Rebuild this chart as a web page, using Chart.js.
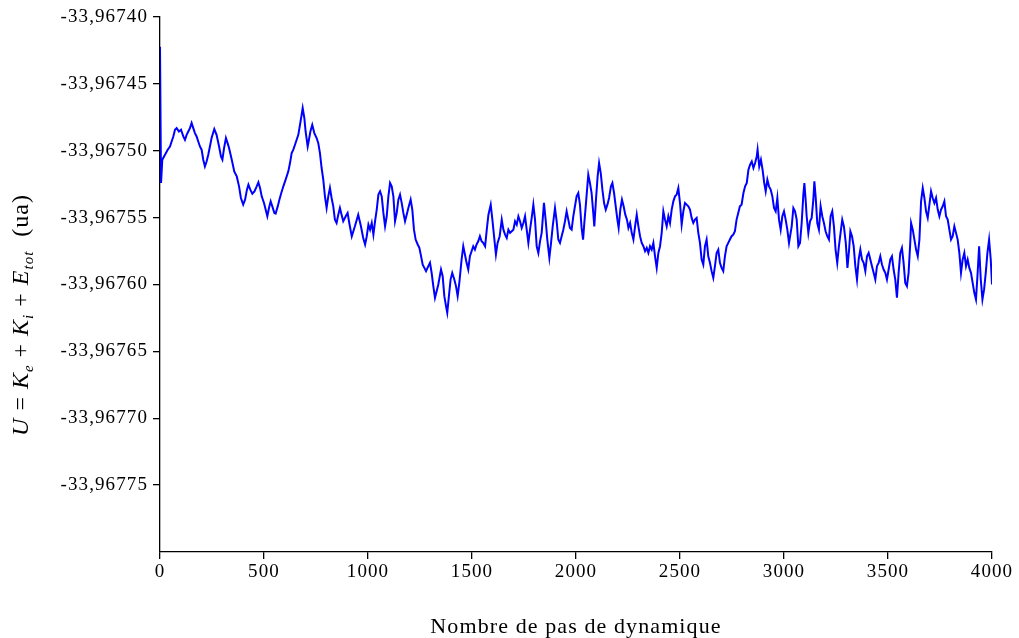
<!DOCTYPE html>
<html>
<head>
<meta charset="utf-8">
<script src="https://cdn.jsdelivr.net/npm/chart.js@4/dist/chart.umd.min.js"></script>
<style>
  html, body { margin: 0; padding: 0; background: #fff; }
  #wrap { width: 1019px; height: 638px; position: relative; }
</style>
</head>
<body>
<div id="wrap"><canvas id="chart"></canvas></div>
<script>
// pas de dynamique (x) and total energy U (ua) in four stretches
const STEPS_1 = [
    0, 5, 11, 24, 37, 48, 56, 64, 72, 80,
    91, 101, 112, 120, 128, 136, 144, 152, 160, 168,
    176, 184, 192, 200, 208, 216, 224, 232, 240, 248,
    261, 272, 284, 293, 300, 308, 317, 325, 332, 345,
    357, 369, 380, 389, 400, 409, 418, 425, 434, 444,
    454, 465, 473, 481, 489, 500, 510, 516, 524, 532,
    540, 550, 556, 566, 574, 582, 593, 604, 617, 625,
    633, 641, 649, 657, 665, 673, 681, 686, 694, 700,
    710, 716, 723, 732, 742, 753, 761, 769, 777, 785,
    793, 801, 809, 817, 825, 833, 841, 849, 857, 865,
    873, 881, 893, 902, 910, 922, 937, 953, 966, 977
];
const ENERGY_1 = [
    -33.9674222, -33.9675241, -33.9675067, -33.9675030, -33.9674992, -33.9674968, -33.9674931, -33.9674893, -33.9674843, -33.9674831,
    -33.9674856, -33.9674843, -33.9674893, -33.9674918, -33.9674881, -33.9674856, -33.9674831, -33.9674793, -33.9674831, -33.9674868,
    -33.9674893, -33.9674931, -33.9674968, -33.9674992, -33.9675067, -33.9675117, -33.9675080, -33.9675030, -33.9674968, -33.9674905,
    -33.9674838, -33.9674881, -33.9674968, -33.9675043, -33.9675067, -33.9674980, -33.9674905, -33.9674943, -33.9674980, -33.9675067,
    -33.9675154, -33.9675192, -33.9675266, -33.9675353, -33.9675403, -33.9675366, -33.9675291, -33.9675254, -33.9675291, -33.9675321,
    -33.9675304, -33.9675266, -33.9675236, -33.9675278, -33.9675341, -33.9675390, -33.9675453, -33.9675490, -33.9675428, -33.9675378,
    -33.9675416, -33.9675465, -33.9675470, -33.9675416, -33.9675366, -33.9675321, -33.9675266, -33.9675216, -33.9675154, -33.9675092,
    -33.9675017, -33.9674992, -33.9674955, -33.9674918, -33.9674881, -33.9674806, -33.9674731, -33.9674681, -33.9674756, -33.9674856,
    -33.9674968, -33.9674918, -33.9674856, -33.9674806, -33.9674868, -33.9674905, -33.9674943, -33.9675017, -33.9675129, -33.9675216,
    -33.9675341, -33.9675428, -33.9675341, -33.9675278, -33.9675353, -33.9675416, -33.9675515, -33.9675540, -33.9675478, -33.9675428,
    -33.9675478, -33.9675527, -33.9675490, -33.9675465, -33.9675540, -33.9675640, -33.9675565, -33.9675478, -33.9675565, -33.9675652
];

const STEPS_2 = [
    986, 994, 1002, 1010, 1018, 1026, 1034, 1042, 1050, 1058,
    1066, 1074, 1082, 1090, 1098, 1106, 1114, 1122, 1130, 1138,
    1146, 1154, 1162, 1170, 1178, 1186, 1194, 1205, 1213, 1221,
    1229, 1239, 1247, 1255, 1263, 1271, 1279, 1290, 1298, 1306,
    1314, 1322, 1330, 1338, 1351, 1359, 1367, 1375, 1381, 1389,
    1397, 1405, 1415, 1423, 1431, 1439, 1450, 1458, 1466, 1474,
    1482, 1490, 1498, 1506, 1514, 1522, 1530, 1538, 1546, 1554,
    1563, 1571, 1579, 1590, 1598, 1606, 1615, 1623, 1633, 1643,
    1651, 1659, 1667, 1675, 1683, 1691, 1699, 1707, 1715, 1723,
    1731, 1739, 1747, 1755, 1763, 1771, 1779, 1787, 1795, 1803,
    1811, 1819, 1827, 1835, 1846, 1854, 1862, 1872, 1880, 1888,
    1899, 1907, 1915, 1923, 1931, 1939, 1947, 1955, 1963, 1971,
    1979, 1987, 1995, 2003, 2011, 2019
];
const ENERGY_2 = [
    -33.9675701, -33.9675639, -33.9675552, -33.9675590, -33.9675540, -33.9675627, -33.9675527, -33.9675440, -33.9675328, -33.9675303,
    -33.9675341, -33.9675465, -33.9675565, -33.9675490, -33.9675341, -33.9675241, -33.9675266, -33.9675341, -33.9675527, -33.9675465,
    -33.9675366, -33.9675328, -33.9675390, -33.9675465, -33.9675527, -33.9675478, -33.9675428, -33.9675366, -33.9675440, -33.9675590,
    -33.9675664, -33.9675701, -33.9675726, -33.9675788, -33.9675851, -33.9675876, -33.9675900, -33.9675863, -33.9675838, -33.9675913,
    -33.9676012, -33.9676099, -33.9676050, -33.9676000, -33.9675888, -33.9675938, -33.9676087, -33.9676162, -33.9676211, -33.9676087,
    -33.9675963, -33.9675913, -33.9675963, -33.9676012, -33.9676087, -33.9675988, -33.9675813, -33.9675714, -33.9675776, -33.9675838,
    -33.9675888, -33.9675788, -33.9675751, -33.9675714, -33.9675739, -33.9675701, -33.9675677, -33.9675639, -33.9675677, -33.9675689,
    -33.9675714, -33.9675590, -33.9675478, -33.9675403, -33.9675515, -33.9675639, -33.9675776, -33.9675689, -33.9675639, -33.9675515,
    -33.9675590, -33.9675627, -33.9675652, -33.9675590, -33.9675614, -33.9675602, -33.9675590, -33.9675527, -33.9675552, -33.9675490,
    -33.9675527, -33.9675577, -33.9675540, -33.9675490, -33.9675590, -33.9675689, -33.9675590, -33.9675502, -33.9675403, -33.9675515,
    -33.9675714, -33.9675764, -33.9675677, -33.9675614, -33.9675390, -33.9675515, -33.9675664, -33.9675801, -33.9675689, -33.9675565,
    -33.9675428, -33.9675527, -33.9675664, -33.9675689, -33.9675639, -33.9675590, -33.9675527, -33.9675453, -33.9675515, -33.9675577,
    -33.9675590, -33.9675490, -33.9675415, -33.9675341, -33.9675316, -33.9675403
];

const STEPS_3 = [
    2027, 2034, 2040, 2048, 2059, 2067, 2075, 2083, 2088, 2096,
    2104, 2111, 2119, 2127, 2135, 2143, 2151, 2159, 2168, 2175,
    2183, 2191, 2199, 2205, 2213, 2221, 2229, 2237, 2245, 2252,
    2260, 2268, 2276, 2284, 2292, 2300, 2308, 2316, 2324, 2332,
    2340, 2348, 2356, 2364, 2372, 2380, 2388, 2396, 2404, 2412,
    2420, 2428, 2436, 2444, 2452, 2460, 2468, 2476, 2484, 2492,
    2500, 2508, 2516, 2524, 2532, 2540, 2548, 2556, 2564, 2572,
    2580, 2588, 2596, 2604, 2612, 2620, 2628, 2636, 2644, 2652,
    2660, 2668, 2676, 2684, 2692, 2700, 2708, 2716, 2724, 2732,
    2740, 2748, 2756, 2764, 2772, 2780, 2788, 2796, 2805, 2813,
    2821, 2829, 2837, 2845, 2853, 2861, 2869, 2873, 2881, 2889,
    2897, 2905, 2912, 2920, 2928, 2936, 2944, 2952, 2960, 2968,
    2976, 2984, 2992, 3000, 3008, 3016, 3024
];
const ENERGY_3 = [
    -33.9675577, -33.9675664, -33.9675540, -33.9675391, -33.9675179, -33.9675241, -33.9675316, -33.9675465, -33.9675565, -33.9675366,
    -33.9675192, -33.9675092, -33.9675167, -33.9675291, -33.9675391, -33.9675440, -33.9675403, -33.9675353, -33.9675266, -33.9675241,
    -33.9675316, -33.9675415, -33.9675515, -33.9675577, -33.9675440, -33.9675366, -33.9675415, -33.9675478, -33.9675515, -33.9675577,
    -33.9675540, -33.9675614, -33.9675664, -33.9675565, -33.9675478, -33.9675565, -33.9675639, -33.9675689, -33.9675714, -33.9675751,
    -33.9675726, -33.9675764, -33.9675714, -33.9675739, -33.9675689, -33.9675789, -33.9675876, -33.9675764, -33.9675714, -33.9675614,
    -33.9675453, -33.9675515, -33.9675565, -33.9675490, -33.9675540, -33.9675440, -33.9675378, -33.9675341, -33.9675328, -33.9675279,
    -33.9675391, -33.9675552, -33.9675453, -33.9675391, -33.9675403, -33.9675415, -33.9675440, -33.9675502, -33.9675540, -33.9675515,
    -33.9675502, -33.9675614, -33.9675689, -33.9675813, -33.9675851, -33.9675714, -33.9675664, -33.9675789, -33.9675838, -33.9675900,
    -33.9675950, -33.9675863, -33.9675764, -33.9675739, -33.9675838, -33.9675876, -33.9675900, -33.9675789, -33.9675714, -33.9675689,
    -33.9675664, -33.9675639, -33.9675627, -33.9675602, -33.9675515, -33.9675465, -33.9675415, -33.9675403, -33.9675316, -33.9675266,
    -33.9675241, -33.9675142, -33.9675104, -33.9675080, -33.9675129, -33.9675092, -33.9675042, -33.9674992, -33.9675117, -33.9675067,
    -33.9675142, -33.9675241, -33.9675303, -33.9675216, -33.9675266, -33.9675291, -33.9675341, -33.9675428, -33.9675453, -33.9675353,
    -33.9675515, -33.9675590, -33.9675490, -33.9675453, -33.9675515, -33.9675590, -33.9675689
];

const STEPS_4 = [
    3037, 3045, 3053, 3061, 3069, 3077, 3085, 3093, 3098, 3104,
    3109, 3117, 3125, 3133, 3141, 3146, 3152, 3160, 3168, 3176,
    3184, 3192, 3200, 3208, 3216, 3224, 3232, 3240, 3248, 3256,
    3264, 3272, 3280, 3288, 3297, 3305, 3313, 3319, 3327, 3335,
    3343, 3351, 3359, 3367, 3375, 3383, 3391, 3399, 3407, 3415,
    3423, 3431, 3439, 3447, 3455, 3463, 3471, 3479, 3487, 3495,
    3503, 3511, 3519, 3527, 3535, 3543, 3551, 3559, 3567, 3575,
    3583, 3591, 3599, 3607, 3611, 3619, 3627, 3635, 3643, 3651,
    3659, 3667, 3675, 3683, 3691, 3699, 3707, 3715, 3723, 3731,
    3739, 3747, 3755, 3763, 3771, 3779, 3787, 3795, 3803, 3811,
    3819, 3827, 3835, 3843, 3851, 3859, 3867, 3875, 3883, 3891,
    3899, 3907, 3915, 3923, 3931, 3938, 3946, 3954, 3962, 3970,
    3978, 3986, 3994, 4000
];
const ENERGY_4 = [
    -33.9675565, -33.9675428, -33.9675453, -33.9675515, -33.9675714, -33.9675689, -33.9675540, -33.9675328, -33.9675241, -33.9675366,
    -33.9675490, -33.9675614, -33.9675527, -33.9675502, -33.9675366, -33.9675229, -33.9675341, -33.9675540, -33.9675590, -33.9675415,
    -33.9675490, -33.9675540, -33.9675602, -33.9675639, -33.9675664, -33.9675490, -33.9675453, -33.9675565, -33.9675739, -33.9675838,
    -33.9675714, -33.9675614, -33.9675515, -33.9675565, -33.9675689, -33.9675876, -33.9675739, -33.9675602, -33.9675639, -33.9675714,
    -33.9675863, -33.9675963, -33.9675813, -33.9675739, -33.9675813, -33.9675838, -33.9675900, -33.9675789, -33.9675764, -33.9675813,
    -33.9675863, -33.9675913, -33.9675963, -33.9675863, -33.9675838, -33.9675789, -33.9675851, -33.9675888, -33.9675913, -33.9675963,
    -33.9675888, -33.9675813, -33.9675789, -33.9675888, -33.9675963, -33.9676099, -33.9675913, -33.9675764, -33.9675726, -33.9675838,
    -33.9675988, -33.9676012, -33.9675913, -33.9675689, -33.9675540, -33.9675590, -33.9675664, -33.9675739, -33.9675789, -33.9675664,
    -33.9675378, -33.9675279, -33.9675353, -33.9675453, -33.9675502, -33.9675403, -33.9675303, -33.9675353, -33.9675391, -33.9675353,
    -33.9675440, -33.9675490, -33.9675440, -33.9675415, -33.9675378, -33.9675490, -33.9675515, -33.9675590, -33.9675664, -33.9675639,
    -33.9675565, -33.9675614, -33.9675664, -33.9675764, -33.9675913, -33.9675813, -33.9675764, -33.9675863, -33.9675813, -33.9675876,
    -33.9675913, -33.9675988, -33.9676062, -33.9676112, -33.9675913, -33.9675714, -33.9675963, -33.9676112, -33.9676037, -33.9675913,
    -33.9675764, -33.9675664, -33.9675813, -33.9676000
];

const X_TICKS = [0, 500, 1000, 1500, 2000, 2500, 3000, 3500, 4000];
const Y_TICKS = [-33.96740, -33.96745, -33.96750, -33.96755, -33.96760, -33.96765, -33.96770, -33.96775];
const Y_TICK_LABELS = ['-33,96740', '-33,96745', '-33,96750', '-33,96755', '-33,96760', '-33,96765', '-33,96770', '-33,96775'];
const Y_MIN = -33.96780;
const Y_MAX = -33.96740;

const X_TITLE = 'Nombre de pas de dynamique';
// U = K_e + K_i + E_tot  (ua), piece by piece
const Y_TITLE_PARTS = [
    { text: 'U', italic: true },
    { text: ' = ' },
    { text: 'K', italic: true },
    { text: 'e', italic: true, sub: true },
    { text: ' + ' },
    { text: 'K', italic: true },
    { text: 'i', italic: true, sub: true },
    { text: ' + ' },
    { text: 'E', italic: true },
    { text: 'tot', italic: true, sub: true },
    { text: '  (ua)' },
];

const STEPS = [...STEPS_1, ...STEPS_2, ...STEPS_3, ...STEPS_4];
const ENERGY = [...ENERGY_1, ...ENERGY_2, ...ENERGY_3, ...ENERGY_4];

const SERIF = "'Liberation Serif', 'DejaVu Serif', serif";
const SPACING = '1.1px';

const spacingPlugin = {
    id: 'spacing',
    beforeUpdate(chart) { chart.ctx.letterSpacing = SPACING; },
    beforeDraw(chart) { chart.ctx.letterSpacing = SPACING; },
};

const yTitlePlugin = {
    id: 'yTitle',
    afterDraw(chart) {
        const ctx = chart.ctx;
        ctx.save();
        ctx.letterSpacing = '1px';
        ctx.fillStyle = '#000';
        ctx.textBaseline = 'alphabetic';
        const fontOf = p => (p.italic ? 'italic ' : '') + (p.sub ? '15px ' : '24px ') + SERIF;
        let total = 0;
        Y_TITLE_PARTS.forEach(p => { ctx.font = fontOf(p); total += ctx.measureText(p.text).width; });
        ctx.translate(28, 315);
        ctx.rotate(-Math.PI / 2);
        let x = -total / 2;
        Y_TITLE_PARTS.forEach(p => {
            ctx.font = fontOf(p);
            ctx.fillText(p.text, x, p.sub ? 5 : 0);
            x += ctx.measureText(p.text).width;
        });
        ctx.restore();
    }
};

new Chart(document.getElementById('chart'), {
    type: 'scatter',
    data: {
        datasets: [{
            data: STEPS.map((s, i) => ({ x: s, y: ENERGY[i] })),
            showLine: true,
            borderColor: '#0000ff',
            backgroundColor: '#0000ff',
            borderWidth: 2,
            pointRadius: 0,
            tension: 0,
        }]
    },
    plugins: [spacingPlugin, yTitlePlugin],
    options: {
        responsive: true,
        maintainAspectRatio: false,
        animation: false,
        layout: { padding: { top: 17, right: 27, left: 0, bottom: 0 } },
        plugins: {
            legend: { display: false },
            tooltip: { enabled: false },
        },
        scales: {
            x: {
                type: 'linear',
                min: 0,
                max: 4000,
                afterBuildTicks: scale => { scale.ticks = X_TICKS.map(v => ({ value: v })); },
                afterFit: scale => { scale.height = 86; },
                border: { display: true, color: '#000', width: 1.3 },
                grid: { drawOnChartArea: false, drawTicks: true, tickLength: 7, color: '#000', lineWidth: 1.3 },
                ticks: {
                    color: '#000',
                    padding: 2,
                    maxRotation: 0,
                    font: { family: SERIF, size: 19 },
                    callback: v => String(v),
                },
                title: {
                    display: true,
                    text: X_TITLE,
                    color: '#000',
                    padding: { top: 0, bottom: 0 },
                    font: { family: SERIF, size: 22, lineHeight: 1.0 },
                },
            },
            y: {
                type: 'linear',
                min: Y_MIN,
                max: Y_MAX,
                afterBuildTicks: scale => { scale.ticks = Y_TICKS.map(v => ({ value: v })); },
                afterFit: scale => { scale.width = 160; },
                border: { display: true, color: '#000', width: 1.3 },
                grid: { drawOnChartArea: false, drawTicks: true, tickLength: 7, color: '#000', lineWidth: 1.3 },
                ticks: {
                    color: '#000',
                    padding: 5,
                    font: { family: SERIF, size: 19 },
                    callback: (v, i) => Y_TICK_LABELS[i],
                },
            },
        },
    },
});
</script>
</body>
</html>
